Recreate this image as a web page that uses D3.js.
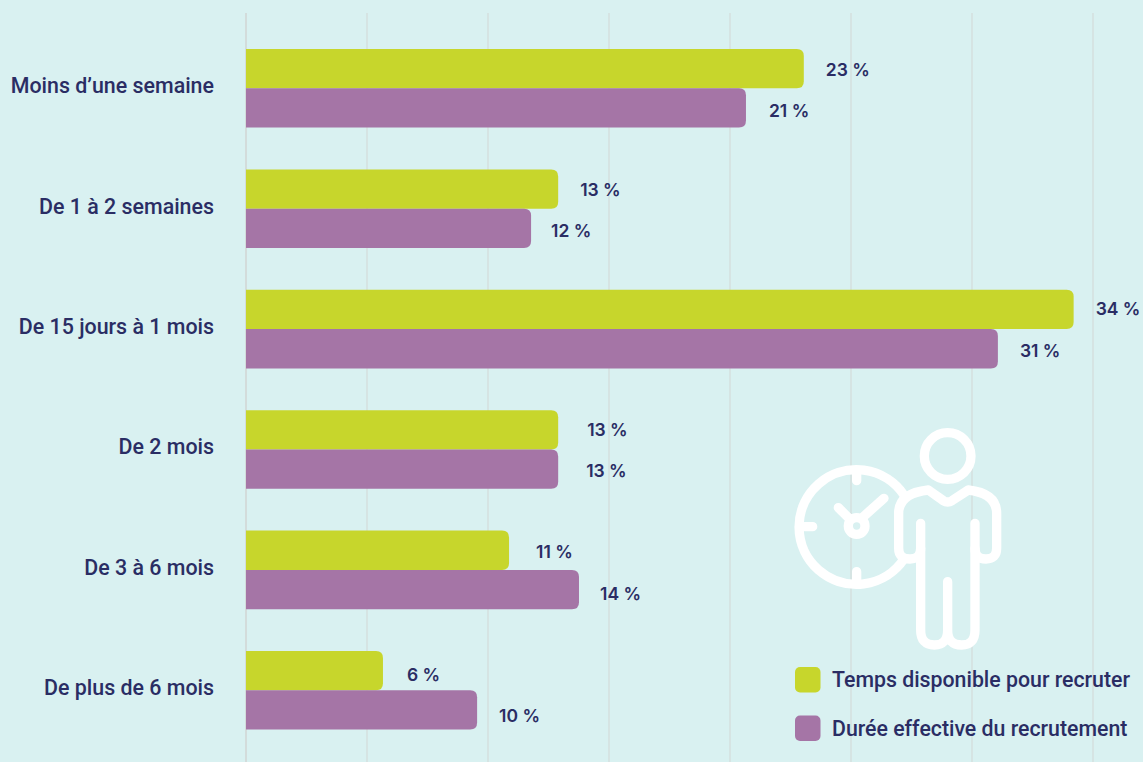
<!DOCTYPE html>
<html>
<head>
<meta charset="utf-8">
<script src="https://d3js.org/d3.v7.min.js"></script>
<style>
html, body { margin: 0; padding: 0; background: #d9f1f1; }
svg { display: block; }
text { font-family: Roboto, sans-serif; fill: #2a2d64; }
</style>
</head>
<body>
<svg id="chart"></svg>
<script>
var categories = ["Moins d\u2019une semaine", "De 1 \u00e0 2 semaines", "De 15 jours \u00e0 1 mois", "De 2 mois", "De 3 \u00e0 6 mois", "De plus de 6 mois"];
var seriesNames = ["Temps disponible pour recruter", "Dur\u00e9e effective du recrutement"];
var available = [23.05, 12.9, 34.2, 12.9, 10.87, 5.66];
var actual = [20.66, 11.78, 31.07, 12.9, 13.76, 9.55];
var xTicks = [0, 5, 10, 15, 20, 25, 30, 35];
var colors = ["#c7d62c", "#a575a6"];

var width = 1143, height = 762;
var svg = d3.select("#chart").attr("width", width).attr("height", height);

var x = d3.scaleLinear().domain([0, 35]).range([246, 1093]);
var y = d3.scaleBand().domain(categories).range([49, 729.6]).paddingInner(0.347);
var inner = d3.scaleBand().domain([0, 1]).range([0, y.bandwidth()]);

// the value labels don't sit at quite the same distance from the bars everywhere
var gapNudge = [[0, 0, 0, 7, 5, 2], [1, -2, 0, 6, -1, 0]];
var rowNudge = [0, 0, -1, -1, 1, 3];

// gridlines
svg.selectAll("line.grid")
    .data(xTicks)
    .enter().append("line")
    .attr("class", "grid")
    .attr("x1", d => x(d))
    .attr("x2", d => x(d))
    .attr("y1", 13)
    .attr("y2", height)
    .attr("stroke", "#d3dcdb")
    .attr("stroke-width", d => d == 0 ? 2 : 1.2);

function barPath(x0, x1, top, h) {
    var r = 7;
    return "M" + x0 + "," + top + "H" + (x1 - r) + "Q" + x1 + "," + top + " " + x1 + "," + (top + r) +
        "V" + (top + h - r) + "Q" + x1 + "," + (top + h) + " " + (x1 - r) + "," + (top + h) + "H" + x0 + "Z";
}

[available, actual].forEach(function(values, s) {
    svg.selectAll("path.bar" + s)
        .data(values)
        .enter().append("path")
        .attr("class", "bar" + s)
        .attr("fill", colors[s])
        .attr("d", (d, i) => barPath(x(0), x(d), y(categories[i]) + inner(s), inner.bandwidth()));

    svg.selectAll("text.val" + s)
        .data(values)
        .enter().append("text")
        .attr("class", "val" + s)
        .attr("x", (d, i) => x(d) + 22 + gapNudge[s][i])
        .attr("y", (d, i) => y(categories[i]) + inner(s) + inner.bandwidth() / 2 + 7 + s * 2 + rowNudge[i])
        .style("font-family", "Inter, sans-serif")
        .attr("font-size", 17.5)
        .attr("font-weight", 600)
        .text(d => Math.round(d) + " %");
});

// category labels
svg.selectAll("text.cat")
    .data(categories)
    .enter().append("text")
    .attr("class", "cat")
    .attr("x", 214)
    .attr("y", d => y(d) + y.bandwidth() / 2 + 5)
    .attr("text-anchor", "end")
    .attr("font-size", 21.4)
    .attr("font-weight", 500)
    .text(d => d);

// icon, drawn in 3x units of its own box
var icon = svg.append("g")
    .attr("transform", "translate(780,410) scale(0.3333)")
    .attr("fill", "none")
    .attr("stroke", "#fff")
    .attr("stroke-width", 28)
    .attr("stroke-linecap", "round")
    .attr("stroke-linejoin", "round");
icon.append("circle").attr("cx", 503).attr("cy", 138).attr("r", 70);
icon.append("path").attr("d", "M372,255A172,172 0 1 0 372,447");
icon.append("circle").attr("cx", 230).attr("cy", 348).attr("r", 25);
icon.append("path").attr("d", "M230,190V212M230,485V510M75,350H98M207,325L175,293M250,320L312,265");
icon.append("path").attr("d", "M422,340V415Q422,447 390,447Q356,447 356,415V310Q356,250 445,240L490,272Q503,280 516,272L565,240Q650,250 650,310V415Q650,447 618,447Q585,447 585,415V340");
icon.append("path").attr("d", "M422,415V660Q422,705 463,705Q503,705 503,660V515M503,660Q503,705 545,705Q585,705 585,660V415");

// legend
var legend = svg.selectAll("g.legend")
    .data(seriesNames)
    .enter().append("g")
    .attr("class", "legend")
    .attr("transform", (d, i) => "translate(795," + (667 + i * 48.5) + ")");
legend.append("rect")
    .attr("width", 25.5)
    .attr("height", 25.5)
    .attr("rx", 5)
    .attr("fill", (d, i) => colors[i]);
legend.append("text")
    .attr("x", 37)
    .attr("y", 20)
    .attr("font-size", 21.3)
    .attr("font-weight", 500)
    .text(d => d);
</script>
</body>
</html>
